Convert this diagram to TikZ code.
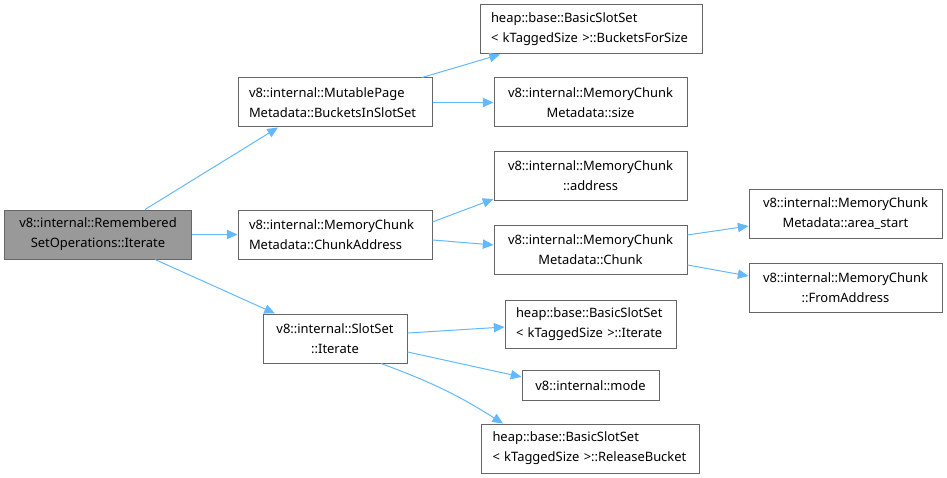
\documentclass[tikz,border=0pt]{standalone}
\usepackage{fontspec}
\setmainfont{Noto Sans}
\usetikzlibrary{arrows.meta}
\definecolor{edgeblue}{HTML}{63B8FF}
\definecolor{boxborder}{HTML}{666666}
\definecolor{rootfill}{HTML}{999999}
\tikzset{
  bx/.style={draw=boxborder, fill=white, line width=0.75pt, rectangle, inner ysep=0pt,
    minimum height=#1*0.75pt, font=\fontsize{9.7pt}{15pt}\selectfont},
  cbox/.style 2 args={bx=#2, minimum width=#1*0.75pt, align=center, inner xsep=0pt},
  lbox/.style 2 args={bx=#2, text width=(#1-22)*0.75pt, align=left, inner xsep=8.25pt},
  edge/.style={draw=edgeblue, line width=0.75pt, -{Triangle[length=8pt,width=7pt]}}
}
\begin{document}
\begin{tikzpicture}[x=0.75pt, y=-0.75pt]
\useasboundingbox (0,0) rectangle (947,478);
\node[cbox={187}{49}, fill=rootfill] (root) at (98,234.5) {v8::internal::Remembered\\SetOperations::Iterate};
\node[lbox={194}{49}] (mp) at (335,102.5) {v8::internal::MutablePage\\Metadata::BucketsInSlotSet};
\node[lbox={222}{49}] (bfs) at (591,29.5) {heap::base::BasicSlotSet\\< kTaggedSize >::BucketsForSize};
\node[cbox={193}{49}] (size) at (590.5,102.5) {v8::internal::MemoryChunk\\Metadata::size};
\node[cbox={193}{49}] (addr) at (590.5,176) {v8::internal::MemoryChunk\\::address};
\node[lbox={194}{49}] (ca) at (335,234.5) {v8::internal::MemoryChunk\\Metadata::ChunkAddress};
\node[cbox={193}{49}] (chunk) at (590.5,249.5) {v8::internal::MemoryChunk\\Metadata::Chunk};
\node[cbox={193}{49}] (as) at (845.5,214) {v8::internal::MemoryChunk\\Metadata::area\_start};
\node[cbox={193}{49}] (fa) at (845.5,287.5) {v8::internal::MemoryChunk\\::FromAddress};
\node[cbox={144}{49}] (ssi) at (335,338.5) {v8::internal::SlotSet\\::Iterate};
\node[lbox={171}{48}] (bsi) at (590.5,324) {heap::base::BasicSlotSet\\< kTaggedSize >::Iterate};
\node[cbox={137}{30}] (mode) at (590.5,385.5) {v8::internal::mode};
\node[lbox={218}{49}] (rb) at (590.5,448.5) {heap::base::BasicSlotSet\\< kTaggedSize >::ReleaseBucket};

\draw[edge] ([xshift=35.25pt]root.north) -- ([xshift=-42.75pt]mp.south);
\draw[edge] (root.east) -- (ca.west);
\draw[edge] ([xshift=42.75pt]root.south) -- ([xshift=-45pt]ssi.north);
\draw[edge] ([xshift=65.25pt]mp.north) -- ([xshift=-68.25pt]bfs.south);
\draw[edge] (mp.east) -- (size.west);
\draw[edge] ([yshift=9.4pt]ca.east) -- ([yshift=1.5pt]addr.south west);
\draw[edge] ([yshift=-4.1pt]ca.east) -- ([yshift=3.4pt]chunk.west);
\draw[edge] ([yshift=10.9pt]chunk.east) -- ([yshift=-9pt]as.west);
\draw[edge] ([yshift=-11.6pt]chunk.east) -- ([yshift=8.6pt]fa.west);
\draw[edge] ([yshift=4.1pt]ssi.east) -- ([yshift=-2.25pt]bsi.west);
\draw[edge] ([yshift=-10.1pt]ssi.east) -- ([yshift=6.4pt]mode.west);
\draw[edge] ([xshift=34.5pt]ssi.south) to[bend left=6] ([xshift=-65.6pt]rb.north);
\end{tikzpicture}
\end{document}
